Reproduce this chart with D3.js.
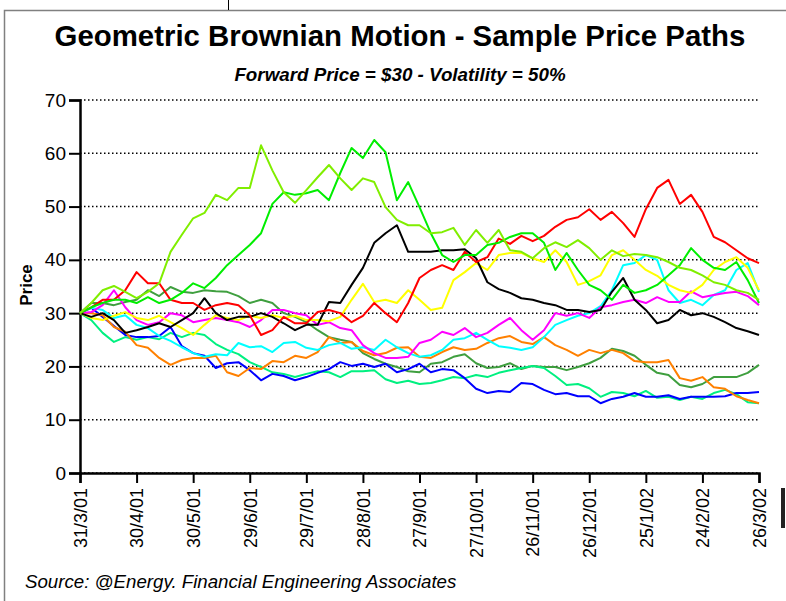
<!DOCTYPE html>
<html>
<head>
<meta charset="utf-8">
<script src="https://cdn.jsdelivr.net/npm/d3@7"></script>
<style>
  html, body { margin: 0; padding: 0; background: #fff; }
  svg { display: block; font-family: Arial, "Liberation Sans", sans-serif; }
</style>
</head>
<body>
<div id="chart"></div>
<script>
// sample days (every 6 days from 31/3/01)
const days = d3.range(0, 361, 6)

const tickLabels = ['31/3/01', '30/4/01', '30/5/01', '29/6/01', '29/7/01', '28/8/01', '27/9/01',
  '27/10/01', '26/11/01', '26/12/01', '25/1/02', '24/2/02', '26/3/02']
const yTicks = [0, 10, 20, 30, 40, 50, 60, 70]

// price paths
const red = [30, 31.1, 32.5, 32.5, 34.3, 37.7, 35.6, 35.6, 32.5, 31.9, 31.9, 30.6, 31.5, 31.9, 31.5, 29.6,
  25.9, 26.8, 29.3, 28.1, 28.1, 30.2, 30.6, 30.0, 28.3, 29.5, 31.9, 30.0, 28.3, 31.9, 36.6, 38.1, 39.0,
  38.1, 41.5, 39.6, 40.5, 44.0, 43.0, 44.5, 43.5, 44.5, 46.2, 47.5, 48.0, 49.5, 47.5, 49.0, 46.9, 44.3,
  49.5, 53.5, 55.0, 50.5, 52.2, 49.0, 44.3, 43.3, 41.8, 40.3, 39.4]
const black = [30, 29.3, 30.0, 28.7, 26.3, 26.8, 27.4, 28.1, 27.4, 28.7, 30.0, 32.8, 30.0, 28.7, 29.3, 29.3,
  30.0, 29.3, 28.1, 26.8, 27.8, 27.8, 32.1, 31.9, 35.3, 38.5, 43.2, 45.0, 46.5, 41.5, 41.5, 41.5, 41.8,
  41.8, 42.0, 40.3, 35.8, 34.5, 33.8, 32.8, 32.5, 31.9, 31.5, 30.6, 30.6, 30.2, 30.6, 34.0, 36.6, 32.5,
  30.6, 28.1, 28.7, 30.6, 29.6, 30.0, 29.3, 28.3, 27.2, 26.6, 25.9]
const green = [30, 31.1, 31.9, 32.5, 32.5, 31.9, 33.0, 31.9, 32.5, 33.8, 35.6, 34.7, 36.6, 39.0, 40.9, 42.8,
  45.0, 50.5, 52.7, 52.2, 52.5, 53.1, 51.2, 56.3, 61.0, 59.1, 62.5, 60.2, 51.2, 54.6, 49.9, 45.0, 40.9,
  39.6, 40.9, 40.9, 42.8, 43.2, 44.3, 45.0, 45.0, 43.2, 38.1, 41.3, 38.1, 35.3, 34.3, 32.5, 35.3, 33.8,
  34.3, 35.3, 37.1, 39.0, 42.2, 40.0, 38.5, 38.1, 39.6, 36.2, 31.9]
const chartreuse = [30, 31.9, 34.3, 35.1, 34.0, 32.8, 34.0, 35.6, 41.5, 44.7, 47.8, 48.8, 52.2, 51.2, 53.5, 53.5,
  61.5, 56.8, 52.7, 50.7, 53.1, 55.5, 57.8, 55.3, 53.1, 55.3, 54.6, 49.9, 47.5, 46.5, 46.5, 45.0, 45.2,
  46.0, 42.8, 45.6, 43.2, 45.6, 41.8, 41.5, 40.3, 42.2, 43.3, 42.4, 43.7, 42.2, 40.0, 41.8, 40.7, 41.1,
  40.9, 40.5, 39.6, 38.5, 38.1, 37.1, 35.8, 35.3, 34.3, 33.8, 32.5]
const yellow = [30, 29.1, 28.7, 29.5, 30.2, 29.1, 28.7, 29.5, 28.3, 27.2, 25.9, 27.8, 29.6, 29.1, 28.7, 29.5,
  29.1, 29.6, 29.1, 29.5, 28.7, 28.7, 28.5, 29.3, 32.5, 35.5, 32.1, 32.5, 31.9, 34.3, 32.5, 30.6, 31.0,
  36.2, 37.7, 39.4, 38.1, 40.9, 41.3, 41.3, 40.3, 39.6, 41.8, 39.6, 35.3, 36.0, 37.1, 40.9, 41.8, 40.0,
  38.1, 37.0, 35.3, 34.3, 33.8, 35.3, 38.1, 39.6, 40.5, 38.5, 34.3]
const magenta = [30, 30.2, 31.5, 34.3, 31.1, 28.7, 27.8, 28.3, 30.0, 29.6, 28.3, 28.7, 29.1, 28.7, 28.3, 27.4,
  28.7, 30.6, 30.6, 30.0, 29.6, 27.8, 28.3, 27.2, 26.8, 24.0, 22.5, 21.6, 21.6, 21.8, 24.4, 25.0, 26.5,
  25.9, 27.2, 25.5, 26.3, 27.8, 29.1, 26.8, 25.0, 26.8, 30.0, 29.5, 30.0, 29.1, 31.1, 31.5, 32.1, 32.5,
  31.9, 33.0, 32.1, 32.1, 34.1, 33.0, 33.4, 33.8, 34.0, 33.2, 31.5]
const cyan = [30, 31.0, 30.6, 29.1, 29.6, 27.8, 27.2, 25.7, 24.8, 23.6, 22.5, 21.8, 22.3, 22.1, 24.4, 23.6,
  23.8, 22.7, 24.4, 24.6, 23.5, 23.1, 24.0, 24.4, 23.3, 23.6, 23.1, 25.0, 23.6, 22.5, 21.8, 22.1, 23.1,
  25.0, 25.3, 26.3, 25.0, 23.8, 23.5, 23.1, 23.6, 25.5, 27.8, 28.7, 29.5, 30.0, 31.3, 34.3, 39.0, 39.4,
  40.9, 40.0, 34.3, 31.9, 32.5, 31.5, 33.4, 34.3, 38.1, 39.4, 34.0]
const orange = [30, 30.0, 29.6, 27.4, 26.5, 24.0, 23.5, 21.6, 20.3, 21.2, 21.6, 21.6, 22.0, 18.9, 18.2, 19.7,
  19.5, 21.0, 20.8, 22.0, 21.6, 22.7, 25.5, 24.4, 24.6, 22.9, 22.1, 22.5, 23.5, 23.6, 21.8, 21.6, 22.7,
  23.6, 23.1, 23.3, 24.4, 25.3, 25.7, 24.6, 24.2, 25.5, 24.0, 23.1, 22.0, 23.1, 22.5, 23.1, 22.5, 21.0,
  20.8, 20.8, 21.2, 17.8, 17.3, 18.0, 16.1, 15.8, 14.4, 13.7, 13.1]
const darkGreen = [30, 31.9, 31.9, 31.5, 32.1, 32.5, 34.3, 33.2, 34.9, 34.0, 33.8, 34.3, 34.1, 34.0, 33.2, 31.9,
  32.5, 31.9, 30.0, 29.3, 28.3, 26.8, 25.5, 25.0, 24.6, 22.5, 21.4, 20.5, 19.9, 19.1, 18.9, 20.5, 20.8,
  21.8, 22.3, 20.6, 19.7, 19.9, 20.6, 19.5, 20.1, 19.9, 19.9, 19.3, 19.9, 20.6, 21.6, 23.3, 22.9, 22.0,
  20.3, 18.8, 18.4, 16.5, 16.1, 16.7, 18.0, 18.0, 18.0, 18.8, 20.3]
const blue = [30, 31.0, 29.3, 27.6, 25.9, 25.5, 25.5, 25.7, 27.4, 23.8, 22.5, 22.0, 19.7, 20.6, 20.8, 19.3,
  17.4, 18.6, 18.2, 17.4, 18.0, 18.8, 19.5, 20.8, 20.1, 20.5, 19.9, 20.5, 18.9, 19.5, 20.5, 18.9, 19.5,
  19.3, 17.8, 15.8, 15.0, 15.4, 15.2, 16.9, 16.7, 15.6, 14.8, 15.0, 14.4, 14.4, 13.1, 13.9, 14.3, 15.0,
  14.3, 14.3, 14.6, 13.9, 14.3, 14.3, 14.3, 14.4, 15.0, 15.0, 15.2]
const springGreen = [30, 28.7, 26.3, 24.6, 25.5, 25.0, 25.5, 25.1, 26.3, 25.5, 26.3, 25.9, 24.2, 23.1, 22.3, 20.8,
  19.9, 18.9, 18.6, 18.0, 18.6, 19.1, 18.9, 18.0, 19.1, 19.1, 19.3, 17.6, 16.9, 17.3, 16.7, 16.9, 17.4,
  18.0, 17.8, 18.4, 18.0, 18.8, 19.3, 19.7, 20.1, 19.7, 18.2, 16.5, 16.7, 15.9, 14.3, 15.2, 15.0, 14.4,
  15.4, 14.1, 14.3, 13.7, 14.3, 13.9, 15.0, 15.6, 14.8, 13.3, 13.1]

const series = [
  { values: darkGreen, color: '#3f9f3f' },
  { values: springGreen, color: '#00f080' },
  { values: blue, color: '#0000ff' },
  { values: orange, color: '#ff8000' },
  { values: cyan, color: '#00ffff' },
  { values: magenta, color: '#ff00ff' },
  { values: yellow, color: '#ffff00' },
  { values: black, color: '#000000' },
  { values: red, color: '#ff0000' },
  { values: green, color: '#00ee00' },
  { values: chartreuse, color: '#80ee00' }
]

const width = 786
const height = 601
const margin = { top: 100, right: 27, bottom: 128, left: 80 }

const parse = d3.timeParse('%d/%m/%y')
const start = parse(tickLabels[0])
const end = parse(tickLabels[tickLabels.length - 1])

const x = d3.scaleTime().domain([start, end]).range([margin.left, width - margin.right])
const y = d3.scaleLinear().domain([0, 70]).range([height - margin.bottom, margin.top])

const svg = d3.select('#chart').append('svg')
  .attr('width', width)
  .attr('height', height)

// outer frame (partly cut by the screenshot)
svg.append('path')
  .attr('d', 'M4.5,601 L4.5,10.5 L786,10.5')
  .attr('fill', 'none')
  .attr('stroke', '#808080')
  .attr('stroke-width', 1.5)
svg.append('line')
  .attr('x1', 228.5).attr('x2', 228.5).attr('y1', 0).attr('y2', 10)
  .attr('stroke', '#000')
svg.append('rect')
  .attr('x', 781).attr('y', 488).attr('width', 4).attr('height', 40)
  .attr('fill', '#222')

// titles
svg.append('text')
  .attr('x', 400).attr('y', 46)
  .attr('text-anchor', 'middle')
  .style('font-size', '29.4px').style('font-weight', 'bold')
  .text('Geometric Brownian Motion - Sample Price Paths')
svg.append('text')
  .attr('x', 400).attr('y', 81)
  .attr('text-anchor', 'middle')
  .style('font-size', '18.8px').style('font-weight', 'bold').style('font-style', 'italic')
  .text('Forward Price = $30 - Volatility = 50%')

// dotted grid
svg.append('g')
  .selectAll('line')
  .data(yTicks)
  .join('line')
  .attr('x1', margin.left).attr('x2', width - margin.right)
  .attr('y1', d => y(d)).attr('y2', d => y(d))
  .attr('stroke', '#000')
  .attr('stroke-width', 1.5)
  .attr('stroke-dasharray', '1.5,2.5')

// y axis
const yAxis = svg.append('g')
  .attr('transform', `translate(${margin.left},0)`)
  .call(d3.axisLeft(y).tickValues(yTicks).tickSize(11).tickPadding(3))
yAxis.select('.domain').attr('stroke-width', 2.5)
yAxis.selectAll('.tick line').attr('stroke-width', 2)
yAxis.selectAll('.tick text')
  .style('font-size', '19px')
  .style('font-family', 'Arial, "Liberation Sans", sans-serif')
  .attr('fill', '#000')

// x axis
const xAxis = svg.append('g')
  .attr('transform', `translate(0,${y(0)})`)
  .call(d3.axisBottom(x)
    .tickValues(tickLabels.map(parse))
    .tickFormat((d, i) => tickLabels[i])
    .tickSize(10))
xAxis.select('.domain').attr('stroke-width', 2.5)
xAxis.selectAll('.tick line').attr('stroke-width', 2)
xAxis.selectAll('.tick text')
  .style('font-size', '18px')
  .style('font-family', 'Arial, "Liberation Sans", sans-serif')
  .attr('fill', '#000')
  .attr('text-anchor', 'end')
  .attr('transform', 'rotate(-90)')
  .attr('x', -15)
  .attr('y', 0)
  .attr('dy', '0.35em')

// y label
svg.append('text')
  .attr('transform', 'translate(32,285) rotate(-90)')
  .attr('text-anchor', 'middle')
  .style('font-size', '17px').style('font-weight', 'bold')
  .text('Price')

// paths
const line = d3.line()
  .x((d, i) => x(d3.timeDay.offset(start, days[i])))
  .y(d => y(d))

svg.append('g')
  .selectAll('path')
  .data(series)
  .join('path')
  .attr('d', d => line(d.values))
  .attr('fill', 'none')
  .attr('stroke', d => d.color)
  .attr('stroke-width', 2)
  .attr('stroke-linejoin', 'round')

// source
svg.append('text')
  .attr('x', 25).attr('y', 588)
  .style('font-size', '18.7px').style('font-style', 'italic')
  .text('Source: @Energy. Financial Engineering Associates')
</script>
</body>
</html>
